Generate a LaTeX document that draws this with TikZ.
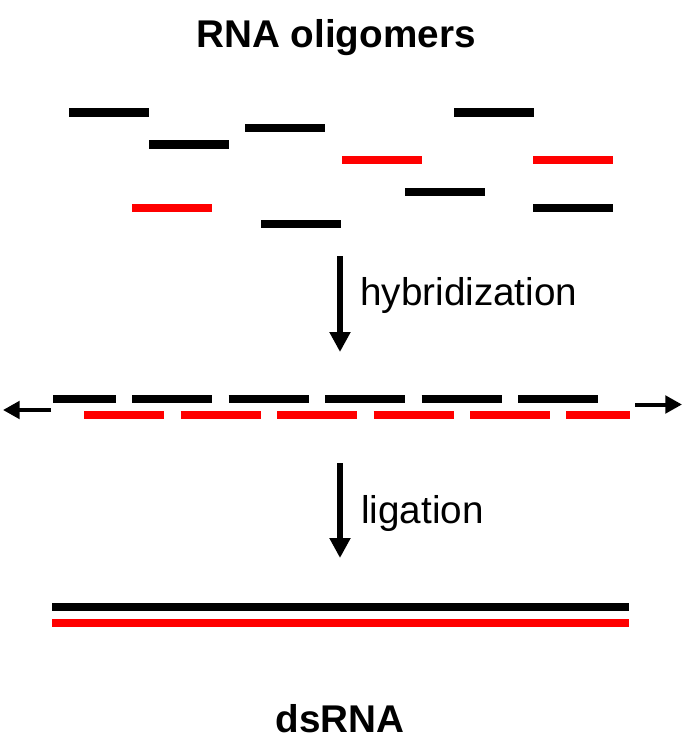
\documentclass[tikz,border=0pt]{standalone}
\usepackage{fontspec}
\setmainfont{Liberation Sans}
\usetikzlibrary{arrows.meta}
\definecolor{strandred}{RGB}{255,0,0}
\tikzset{
  oligo/.style={line width=6.2pt},
  blackbar/.style={oligo, black},
  redbar/.style={oligo, strandred},
  stepdown/.style={line width=4.5pt, -{Triangle[length=15pt,width=15pt]}},
  extendarrow/.style={line width=3pt, -{Triangle[length=12.5pt,width=13pt]}},
  stage/.style={font=\fontsize{29}{35}\selectfont\bfseries, anchor=base},
  action/.style={font=\fontsize{29}{35}\selectfont, anchor=base west, inner sep=0pt},
}
\begin{document}
\begin{tikzpicture}[x=0.75pt,y=0.75pt,yscale=-1,xscale=1]
\useasboundingbox (0,0) rectangle (685,753);

% Title
\node[stage] (title) at (336,47.5) {RNA oligomers};

% free oligomers
\draw[blackbar] (69,112.5) -- ++(80,0);
\draw[blackbar] (454,112.5) -- ++(80,0);
\draw[blackbar] (245,128) -- ++(80,0);
\draw[blackbar] (149,144.5) -- ++(80,0);
\draw[redbar] (342,160) -- ++(80,0);
\draw[redbar] (533,160) -- ++(80,0);
\draw[blackbar] (405,192) -- ++(80,0);
\draw[redbar] (132,208) -- ++(80,0);
\draw[blackbar] (533,208) -- ++(80,0);
\draw[blackbar] (261,224) -- ++(80,0);

% hybridization step
\coordinate (hyb top) at (340,256);
\coordinate (hyb tip) at (340,352);
\draw[stepdown] (hyb top) -- (hyb tip);
\node[action] (hyb label) at (360,305) {hybridization};

% annealed strands
\draw[blackbar] (53,399) -- (116,399);
\foreach \sx in {132,228.5,325,421.5,518}
  \draw[blackbar] (\sx,399) -- ++(80,0);
\foreach \sx in {84,180.5,277,373.5,470}
  \draw[redbar] (\sx,415) -- ++(80,0);
\draw[redbar] (566,415) -- (630,415);

% extension arrows
\coordinate (left start) at (51,410);
\coordinate (left tip) at (3,410);
\coordinate (right start) at (635,404.5);
\coordinate (right tip) at (682,404.5);
\draw[extendarrow] (left start) -- (left tip);
\draw[extendarrow] (right start) -- (right tip);

% ligation step
\coordinate (lig top) at (340,463);
\coordinate (lig tip) at (340,558);
\draw[stepdown] (lig top) -- (lig tip);
\node[action] (lig label) at (361,523) {ligation};

% ligated duplex
\draw[blackbar] (52,607) -- (629,607);
\draw[redbar] (52,623) -- (629,623);

% product
\node[stage] (product) at (340,732) {dsRNA};
\end{tikzpicture}
\end{document}
